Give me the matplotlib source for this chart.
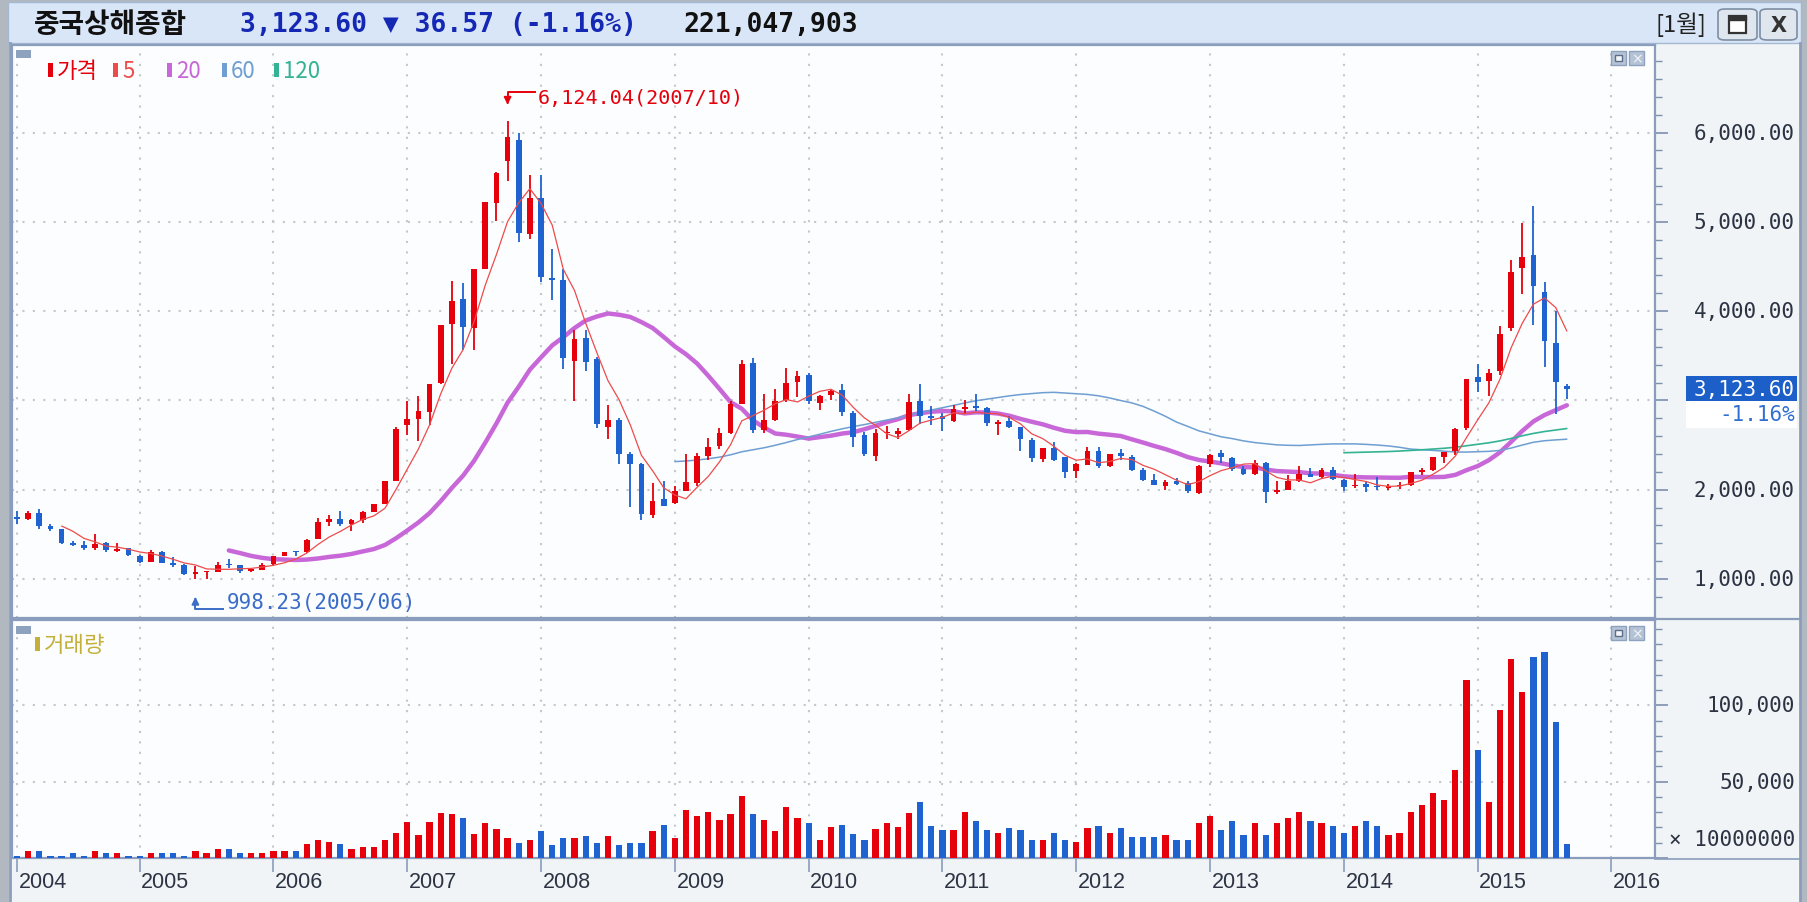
import numpy as np
import pandas as pd
import matplotlib
matplotlib.use("Agg")
import matplotlib.pyplot as plt
import matplotlib.transforms as mtransforms
from matplotlib.patches import Rectangle, FancyBboxPatch, FancyArrowPatch
from matplotlib.lines import Line2D

W, H = 1808, 903

# monthly candles, 2004/02 .. 2015/09
months = pd.period_range("2004-02", "2015-09", freq="M")

opens = [1695, 1675, 1742, 1590, 1556, 1397, 1386, 1342, 1398, 1318, 1342,
         1261, 1190, 1307, 1182, 1158, 1058, 1080, 1083, 1163, 1155, 1093, 1100,
         1163, 1260, 1300, 1299, 1450, 1638, 1674, 1612, 1660, 1755, 1840, 2099,
         2728, 2786, 2871, 3196, 3853, 4130, 3816, 4474, 5210, 5683, 5914, 4868,
         5265, 4375, 4343, 3446, 3704, 3459, 2704, 2777, 2400, 2287, 1719, 1897,
         1849, 1989, 2079, 2381, 2488, 2630, 2965, 3417, 2670, 2785, 3002, 3209,
         3289, 2976, 3057, 3111, 2860, 2614, 2379, 2635, 2622, 2667, 2990, 2829,
         2825, 2774, 2901, 2939, 2915, 2740, 2767, 2701, 2557, 2344, 2472, 2369,
         2212, 2279, 2433, 2260, 2410, 2370, 2226, 2108, 2046, 2092, 2070, 1959,
         2289, 2407, 2360, 2234, 2174, 2298, 1974, 1996, 2093, 2177, 2140, 2225,
         2112, 2036, 2062, 2038, 2022, 2036, 2049, 2201, 2216, 2361, 2430, 2693,
         3258, 3212, 3328, 3810, 4480, 4633, 4214, 3643, 3157]

highs = [1760, 1760, 1783, 1620, 1565, 1420, 1420, 1500, 1410, 1400, 1350,
         1268, 1328, 1310, 1247, 1165, 1146, 1090, 1193, 1223, 1160, 1110, 1178,
         1262, 1306, 1307, 1445, 1685, 1719, 1757, 1673, 1761, 1839, 2102, 2698,
         2994, 3050, 3186, 3848, 4335, 4311, 4471, 5218, 5562, 6124.04, 5989, 5522,
         5522, 4695, 4472, 3786, 3786, 3491, 2952, 2803, 2417, 2300, 2074, 2100,
         2037, 2402, 2408, 2579, 2688, 2997, 3454, 3478, 3068, 3123, 3361, 3333,
         3306, 3063, 3127, 3181, 2880, 2644, 2680, 2718, 2688, 3074, 3186.72, 2939,
         2856, 2946, 3001, 3067, 2921, 2782, 2826, 2705, 2581, 2471, 2536, 2371,
         2300, 2478, 2476, 2396, 2453, 2389, 2243, 2174, 2110, 2133, 2102, 2276,
         2398, 2444, 2362, 2268, 2334, 2315, 2092, 2161, 2270, 2242, 2245, 2259,
         2118, 2177, 2083, 2146, 2061, 2087, 2203, 2248, 2367, 2425, 2686, 3239,
         3406, 3347, 3835, 4572, 4986, 5178, 4330, 4006, 3181]

lows = [1615, 1655, 1562, 1532, 1393, 1370, 1320, 1320, 1300, 1301, 1259,
        1177, 1187, 1180, 1135, 1043, 998.23, 1004, 1077, 1128, 1067, 1074, 1096,
        1159, 1252, 1262, 1293, 1449, 1592, 1593, 1541, 1631, 1750, 1836, 2097,
        2617, 2541, 2723, 3182, 3404, 3563, 3563, 4474, 5013, 5462, 4778, 4812,
        4330, 4123, 3357, 2990, 3333, 2693, 2566, 2284, 1802, 1664.9, 1678, 1814,
        1844, 1984, 2037, 2331, 2461, 2621, 2956, 2639, 2639, 2774, 2985, 3039,
        2963, 2890, 3003, 2823, 2481, 2382, 2319, 2572, 2573, 2658, 2737, 2721,
        2661, 2757, 2850, 2881, 2713, 2610, 2690, 2437, 2307, 2307, 2316, 2134,
        2132, 2275, 2242, 2254, 2332, 2213, 2097, 2047, 1999, 2054, 1959, 1949,
        2253, 2296, 2210, 2161, 2164, 1849.65, 1951, 1992, 2085, 2139, 2119, 2108,
        1984, 2014, 1974, 1993, 1991, 2010, 2042, 2166, 2211, 2296, 2391, 2665,
        3095, 3049, 3285, 3779, 4194, 3847, 3373, 2850, 3019]

closes = [1675, 1741, 1595, 1555, 1399, 1386, 1342, 1396, 1320, 1340, 1266,
          1191, 1306, 1181, 1159, 1060, 1080, 1083, 1162, 1155, 1092, 1099, 1161,
          1258, 1299, 1298, 1440, 1641, 1672, 1612, 1658, 1752, 1837, 2099, 2675,
          2786, 2881, 3183, 3841, 4109, 3820, 4471, 5218, 5552, 5954, 4871, 5261,
          4383, 4348, 3472, 3693, 3433, 2736, 2775, 2397, 2293, 1728, 1871, 1820,
          1990, 2082, 2373, 2477, 2632, 2959, 3412, 2667, 2779, 2995, 3195, 3277,
          2989, 3051, 3109, 2870, 2592, 2398, 2637, 2638, 2655, 2978, 2820, 2808,
          2790, 2905, 2928, 2911, 2743, 2762, 2701, 2567, 2359, 2468, 2333, 2199,
          2292, 2428, 2262, 2396, 2372, 2225, 2103, 2047, 2086, 2068, 1980, 2269,
          2385, 2365, 2236, 2177, 2300, 1979, 1993, 2098, 2174, 2141, 2220, 2116,
          2033, 2056, 2033, 2026, 2039, 2048, 2201, 2217, 2363, 2420, 2682, 3234,
          3210, 3310, 3747, 4441, 4611, 4277, 3663, 3206, 3123.6]

# volume, x 10,000,000
volume = [1500, 4600, 4600, 1500, 1500, 3000, 1500, 4600, 3000, 3000, 1500,
          1500, 3000, 3000, 3000, 1500, 4600, 3000, 6100, 6100, 3000, 3000, 3000,
          4600, 4600, 4600, 8900, 12000, 10400, 8900, 6100, 7400, 7400, 12000, 16300,
          23500, 14800, 23500, 29300, 29000, 26100, 15900, 23000, 18900, 13000, 10000, 11500,
          17400, 8700, 13000, 13000, 14600, 10000, 14600, 8700, 10000, 10000, 17400, 21700,
          13000, 31700, 27400, 30400, 24600, 28900, 40400, 28900, 24600, 17400, 33300, 26100,
          23000, 11500, 20200, 21700, 15900, 11500, 18900, 23000, 20200, 29500, 36400, 21100,
          18200, 18200, 30200, 24300, 18200, 16600, 19800, 18200, 12000, 12000, 16600, 12000,
          10700, 19800, 21100, 16600, 19800, 13600, 13600, 13600, 15200, 12000, 12000, 22700,
          27300, 18200, 24300, 15200, 22700, 15200, 22700, 25900, 30200, 24300, 22700, 21100,
          16600, 21100, 24300, 21100, 15200, 16600, 30200, 34800, 42300, 38000, 57500, 116600,
          71100, 36400, 96800, 130200, 109100, 131800, 134800, 89300, 9100]

ma_periods = [5, 20, 60, 120]
price_ticks = [1000, 2000, 3000, 4000, 5000, 6000]
vol_ticks = [50000, 100000]

RED = "#e6000c"
BLUE = "#1e63d0"
MA_COLORS = {5: "#ee4b4b", 20: "#c868d8", 60: "#6f9ed2", 120: "#34b394"}
MA_WIDTHS = {5: 0.9, 20: 3.2, 60: 1.1, 120: 1.2}
MA_Z = {5: 4, 20: 1.8, 60: 1.9, 120: 1.9}
BORDER = "#8a9dbc"
GRID = "#c3c8cd"
MONO = ["DejaVu Sans Mono", "DejaVu Sans"]
KR = ["Noto Sans CJK KR", "DejaVu Sans"]

o = np.array(opens, float)
h = np.array(highs, float)
l = np.array(lows, float)
c = np.array(closes, float)
x = np.arange(len(c))
cols = np.where(c >= o, RED, BLUE)

year_idx = [0] + [i for i, m in enumerate(months) if m.month == 1] + [len(months) + 3]
year_labels = [str(y) for y in range(2004, 2017)]

fig = plt.figure(figsize=(W / 100, H / 100), dpi=100)
fig.patch.set_facecolor("#b1b8c0")


def fig_rect(x0, y0, x1, y1, **kw):
    r = Rectangle((x0 / W, 1 - y1 / H), (x1 - x0) / W, (y1 - y0) / H,
                  transform=fig.transFigure, **kw)
    fig.add_artist(r)
    return r


def fig_text(xp, yp, s, **kw):
    return fig.text(xp / W, 1 - yp / H, s, **kw)


def fig_line(xs, ys, **kw):
    fig.add_artist(Line2D([v / W for v in xs], [1 - v / H for v in ys],
                          transform=fig.transFigure, **kw))


# window background + title bar
fig_rect(9, 44, 1801, 903, fc="#f1f4f6", ec="none", zorder=-5)
fig_rect(8, 3, 1801, 44, fc="#d9e6f7", ec="#a5b8d2", lw=1, zorder=-4)

fig_text(34, 25, "중국상해종합", family=KR, fontsize=20, fontweight="bold", color="#111111", va="center")
fig_text(240, 25, "3,123.60 ▼ 36.57 (-1.16%)", family=MONO, fontsize=19, fontweight="bold",
         color="#1428b4", va="center")
fig_text(684, 25, "221,047,903", family=MONO, fontsize=19, fontweight="bold", color="#111111", va="center")
fig_text(1656, 25, "[1월]", family=KR, fontsize=17, color="#222222", va="center")
for bx0, bx1 in [(1718, 1757), (1760, 1797)]:
    fig.add_artist(FancyBboxPatch((bx0 / W, 1 - 41 / H), (bx1 - bx0) / W, 31 / H,
                                  boxstyle="round,pad=0,rounding_size=0.004",
                                  transform=fig.transFigure, fc="#dfe6ee", ec="#7d8ea3", lw=1.2))
fig_rect(1729, 17, 1746, 34, fc="white", ec="#333333", lw=1.6, zorder=3)
fig_rect(1729, 17, 1746, 21, fc="#333333", ec="#333333", lw=1, zorder=3)
fig_text(1778.5, 26, "X", family=["DejaVu Sans"], fontsize=15, fontweight="bold",
         color="#333333", ha="center", va="center")

# panels
left, right = 12, 1655
ax = fig.add_axes([left / W, 1 - 619 / H, (right - left) / W, (619 - 46) / H])
axv = fig.add_axes([left / W, 1 - 859 / H, (right - left) / W, (859 - 621) / H])

x_lo = (left - 17) / 11.15
x_hi = (right - 17) / 11.15
for a in (ax, axv):
    a.set_facecolor("#fbfdfe")
    a.set_xlim(x_lo, x_hi)
    for s in a.spines.values():
        s.set_color(BORDER)
        s.set_linewidth(1.6)
    a.set_xticks(year_idx)
    a.set_xticklabels([])
    a.yaxis.tick_right()
    a.tick_params(axis="y", which="both", direction="out", color="#7d90b0", labelright=False)
    a.tick_params(axis="y", which="major", length=9, width=1.2)
    a.tick_params(axis="y", which="minor", length=5, width=1)
    a.grid(True, which="major", ls=(0, (1, 4)), color=GRID, lw=1.5)
    a.set_axisbelow(True)

ax.set_ylim(563, 6980)
ax.set_yticks(price_ticks)
ax.set_yticks(np.arange(800, 6900, 200), minor=True)
ax.tick_params(axis="x", length=0)

axv.set_ylim(0, 156000)
axv.set_yticks([0] + vol_ticks)
axv.set_yticks(np.arange(0, 150001, 10000), minor=True)
axv.tick_params(axis="x", direction="out", length=10, color=BORDER, width=1.2)

# candles
ax.vlines(x, l, h, colors=cols, lw=1.3, zorder=2)
ax.bar(x, np.maximum(np.abs(c - o), 14), bottom=np.minimum(o, c), width=0.52,
       color=cols, lw=0, zorder=3)

# moving averages
cs = pd.Series(c)
for n in ma_periods:
    ax.plot(x, cs.rolling(n).mean(), color=MA_COLORS[n], lw=MA_WIDTHS[n],
            zorder=MA_Z[n], solid_capstyle="round")

# volume
axv.bar(x, volume, width=0.56, color=cols, lw=0, zorder=3)

# right axis labels (the label under the last-price box is hidden)
tp = mtransforms.blended_transform_factory(fig.transFigure, ax.transData)
for v in price_ticks:
    if abs(v - c[-1]) < 250:
        continue
    ax.text(1795 / W, v, f"{v:,.2f}", transform=tp, ha="right", va="center",
            family=MONO, fontsize=15, color="#2c3444", clip_on=False)
tv = mtransforms.blended_transform_factory(fig.transFigure, axv.transData)
for v in vol_ticks:
    axv.text(1795 / W, v, f"{v:,}", transform=tv, ha="right", va="center",
             family=MONO, fontsize=15, color="#2c3444", clip_on=False)
fig_text(1795, 840, "× 10000000", family=MONO, fontsize=15, color="#2c3444", ha="right", va="center")

# year labels under volume panel
tx = mtransforms.blended_transform_factory(axv.transData, fig.transFigure)
for i, lab in zip(year_idx, year_labels):
    axv.text(i + 0.15, 1 - 883 / H, lab, transform=tx, ha="left", va="center",
             family=["Liberation Sans", "DejaVu Sans"], fontsize=15.5,
             color="#2c3444", clip_on=False)

# frame lines
fig_line([1800, 1800], [44, 903], color=BORDER, lw=2)
fig_line([10, 10], [44, 903], color=BORDER, lw=2)
fig_line([right, 1800], [620, 620], color=BORDER, lw=1.6)
fig_line([right, 1800], [859.5, 859.5], color=BORDER, lw=1.2)

# legends
for yy in (51, 627):
    fig_rect(16, yy, 31, yy + 8, fc="#8ea2bf", ec="none", zorder=5)
legend = [("가격", RED, 48), ("5", MA_COLORS[5], 113), ("20", MA_COLORS[20], 167),
          ("60", MA_COLORS[60], 222), ("120", MA_COLORS[120], 274)]
for s, col, xx in legend:
    fig_rect(xx, 64, xx + 5, 78, fc=col, ec="none", zorder=5)
    fig_text(xx + 9, 71, s, family=KR, fontsize=16, color=col, va="center")
fig_rect(35, 638, 40, 652, fc="#c4b038", ec="none", zorder=5)
fig_text(44, 645, "거래량", family=KR, fontsize=16, color="#c4b038", va="center")

# panel buttons
for yy in (52, 627):
    fig_rect(1611, yy, 1626, yy + 14, fc="#b5c3d6", ec="#8ea2bf", lw=1, zorder=5)
    fig_rect(1615, yy + 4, 1622, yy + 10, fc="#f4f6f9", ec="#5d6e88", lw=1, zorder=6)
    fig_rect(1629, yy, 1644, yy + 14, fc="#b5c3d6", ec="#8ea2bf", lw=1, zorder=5)
    fig_text(1636.5, yy + 7, "×", family=["DejaVu Sans"], fontsize=10, color="#f4f6f9",
             ha="center", va="center", zorder=6)

# high / low markers
fig.canvas.draw()
i_hi = int(np.argmax(h))
i_lo = int(np.argmin(l))
X0, Y0 = ax.transData.transform((i_hi, h[i_hi]))
fig_line([X0 + 27, X0, X0], [H - (Y0 + 29), H - (Y0 + 29), H - (Y0 + 20)], color=RED, lw=1.4, zorder=6)
fig.add_artist(FancyArrowPatch((X0 / W, (Y0 + 22) / H), (X0 / W, (Y0 + 14) / H),
                               transform=fig.transFigure, arrowstyle="-|>", mutation_scale=11,
                               color=RED, lw=1.2, zorder=6))
fig_text(X0 + 30, H - (Y0 + 24), f"{h[i_hi]:,.2f}({months[i_hi].strftime('%Y/%m')})",
         family=MONO, fontsize=14.5, color=RED, va="center")

X1, Y1 = ax.transData.transform((i_lo, l[i_lo]))
LOWC = "#3a6cc8"
fig_line([X1 + 28, X1, X1], [H - (Y1 - 30), H - (Y1 - 30), H - (Y1 - 22)], color=LOWC, lw=1.4, zorder=6)
fig.add_artist(FancyArrowPatch((X1 / W, (Y1 - 24) / H), (X1 / W, (Y1 - 15) / H),
                               transform=fig.transFigure, arrowstyle="-|>", mutation_scale=11,
                               color=LOWC, lw=1.2, zorder=6))
fig_text(X1 + 31, H - (Y1 - 23), f"{l[i_lo]:,.2f}({months[i_lo].strftime('%Y/%m')})",
         family=MONO, fontsize=15, color=LOWC, va="center")

# last price box on the right axis
_, YL = ax.transData.transform((0, c[-1]))
yl = H - YL
fig_rect(1686, yl - 13, 1797, yl + 12, fc="#1c5fc9", ec="none", zorder=7)
fig_text(1795, yl, f"{c[-1]:,.2f}", family=MONO, fontsize=15, color="white",
         ha="right", va="center", zorder=8)
fig_rect(1686, yl + 12, 1797, yl + 39, fc="white", ec="none", zorder=7)
fig_text(1795, yl + 25, "-1.16%", family=MONO, fontsize=15, color="#2f6fd0",
         ha="right", va="center", zorder=8)

fig.savefig("out.png", dpi=100, facecolor=fig.get_facecolor())
